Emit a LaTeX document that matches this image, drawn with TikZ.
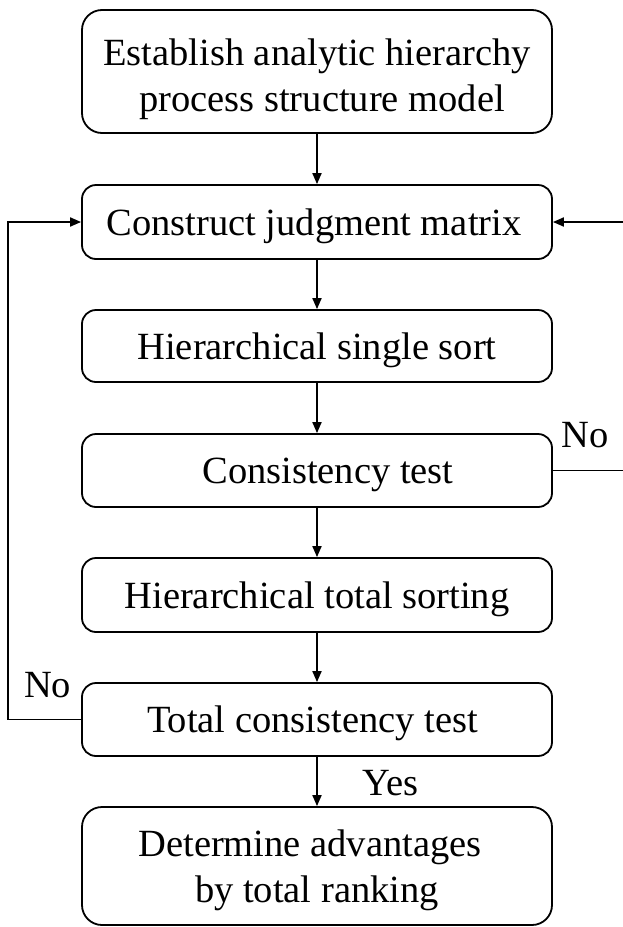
\documentclass[tikz,border=0pt]{standalone}
\usepackage{fontspec}
\setmainfont{Liberation Serif}
\usetikzlibrary{arrows.meta}
\begin{document}
\begin{tikzpicture}[x=1pt,y=-1pt,
  box/.style={draw,line width=1.8pt,rounded corners=14pt,minimum width=470pt,
    align=center,inner sep=0pt,text height=30pt,text depth=4pt,
    font=\fontsize{38.5}{46}\selectfont},
  bigbox/.style={draw,line width=1.8pt,rounded corners=20pt,minimum width=470pt,inner sep=0pt},
  txt/.style={align=center,inner sep=0pt,font=\fontsize{38.5}{46}\selectfont},
  lbl/.style={inner sep=0pt,anchor=base west,font=\fontsize{38.5}{46}\selectfont},
  conn/.style={line width=1.8pt,-{Triangle[length=11pt,width=9pt]}}]
\clip (0,0) rectangle (623,927);
\node[bigbox,minimum height=123pt] (b1) at (317,71.5) {};
\node[txt] (t1) at (317,79) {Establish analytic hierarchy\\\hspace*{10pt}process structure model};
\node[box,minimum height=74pt] (b2) at (317,222) {Construct judgment matrix\hspace*{6pt}};
\node[box,minimum height=72pt] (b3) at (317,346) {Hierarchical single sort};
\node[box,minimum height=73pt] (b4) at (317,470.5) {\hspace*{22pt}Consistency test};
\node[box,minimum height=74pt] (b5) at (317,595) {Hierarchical total sorting};
\node[box,minimum height=73pt] (b6) at (317,719.5) {Total consistency test\hspace*{9pt}};
\node[bigbox,minimum height=118pt] (b7) at (317,866) {};
\node[txt] (t7) at (317,870.5) {Determine advantages\hspace*{14pt}\\by total ranking};
\draw[conn] (b1) -- (b2);
\draw[conn] (b2) -- (b3);
\draw[conn] (b3) -- (b4);
\draw[conn] (b4) -- (b5);
\draw[conn] (b5) -- (b6);
\draw[conn] (b6) -- (b7);
\coordinate (lx) at (8,719.5);
\coordinate (rx) at (660,470.5);
\draw[conn] (b6.west) -- (lx) |- (b2.west);
\draw[conn] (b4.east) -- (rx) |- (b2.east);
\node[lbl] (no1) at (561,447) {No};
\node[lbl] (no2) at (24,697) {No};
\node[lbl] (yes) at (362,795) {Yes};
\end{tikzpicture}
\end{document}
